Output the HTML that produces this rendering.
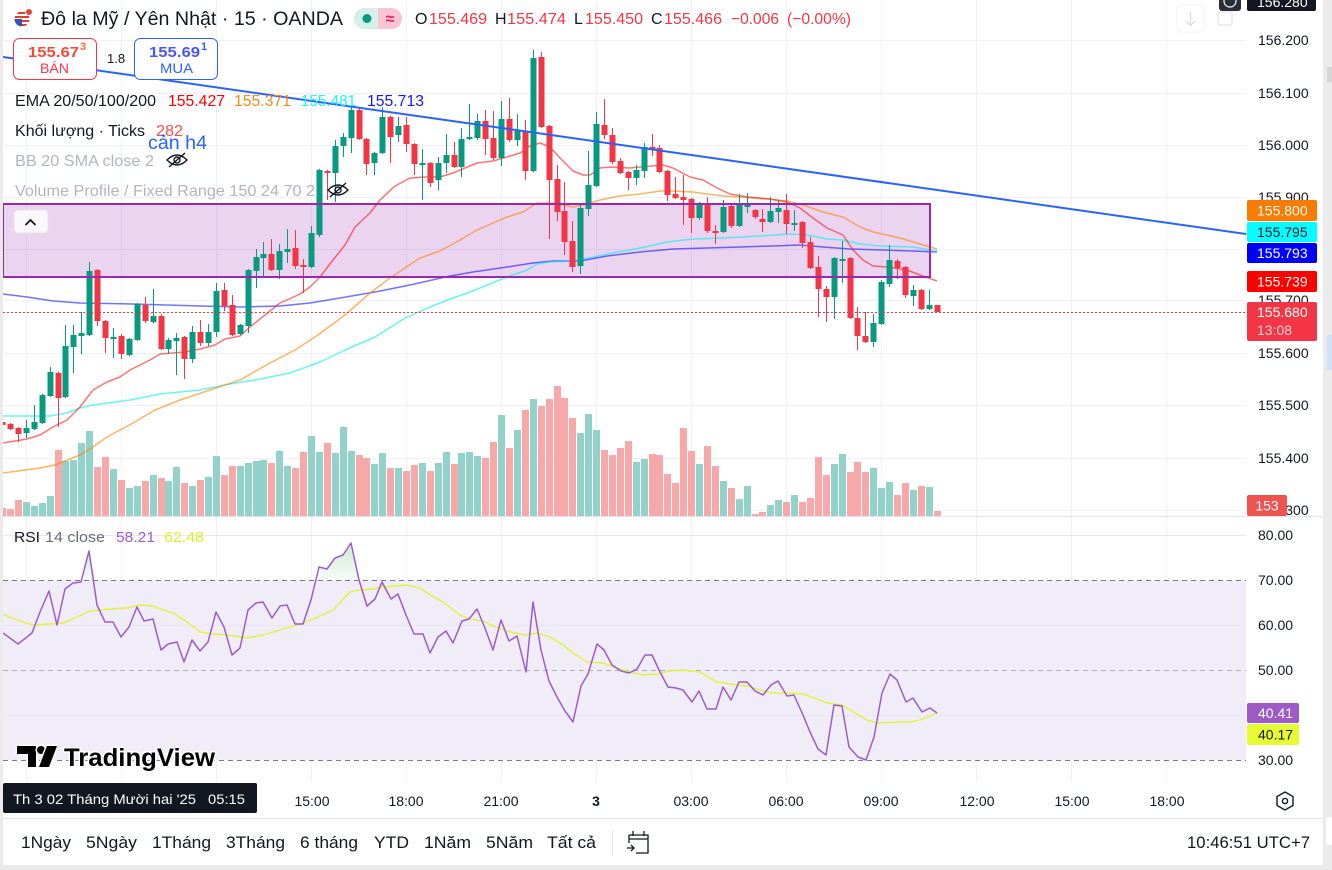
<!DOCTYPE html>
<html><head><meta charset="utf-8"><style>
html,body{margin:0;padding:0;background:#fff;}
svg{display:block;font-family:"Liberation Sans","DejaVu Sans",sans-serif;}
</style></head><body>
<svg width="1332" height="870" viewBox="0 0 1332 870" xmlns="http://www.w3.org/2000/svg">
<defs>
<linearGradient id="gf" x1="0" y1="0" x2="0" y2="1"><stop offset="0" stop-color="#4caf50" stop-opacity="0.28"/><stop offset="1" stop-color="#4caf50" stop-opacity="0.04"/></linearGradient>
<clipPath id="cp"><rect x="3" y="0" width="1243" height="516"/></clipPath>
<clipPath id="cr"><rect x="3" y="517" width="1243" height="265"/></clipPath>
</defs>
<rect width="1332" height="870" fill="#fff"/>
<!-- grid -->
<g stroke="#eff1f5" stroke-width="1">
<path d="M3 40.5H1246M3 93.5H1246M3 145.5H1246M3 197.5H1246M3 249.5H1246M3 300.5H1246M3 353.5H1246M3 405.5H1246M3 458.5H1246M3 510.5H1246"/>
<path d="M26.5 0V782M121.5 0V782M216.5 0V782M311.5 0V782M406.5 0V782M501.5 0V782M596.5 0V782M691.5 0V782M786.5 0V782M881.5 0V782M976.5 0V782M1071.5 0V782M1166.5 0V782"/>
</g>
<!-- RSI pane -->
<rect x="3" y="580" width="1243" height="180" fill="#f0ecf8"/>
<g stroke="#eae6f2"><path d="M3 535.5H1246M3 625.5H1246M3 715.5H1246"/></g>
<g fill="none" stroke="#787b86" stroke-width="1" stroke-dasharray="5,4">
<path d="M3 580.5H1246"/><path d="M3 670.5H1246" stroke-opacity="0.55"/><path d="M3 760.5H1246"/>
</g>
<g clip-path="url(#cr)">
<polygon points="82,580 89,551 95,580" fill="url(#gf)"/>
<polygon points="316,580 319,567 327,569 335,558 343,555 351,543 358,580" fill="url(#gf)"/>
<polyline fill="none" stroke="#e1f33c" stroke-width="1.4" points="3,614 17,620 33,625 50,624 63,623 77,617 90,611 110,609 127,608 140,605 153,606 163,610 173,613 187,622 200,632 213,634 227,635 247,638 263,635 277,631 290,627 303,623 320,616 333,610 350,592 360,590 373,589 383,587 407,585 420,588 430,595 443,602 460,615 470,619 483,621 493,626 507,631 525,635 537,633 550,637 563,645 573,653 587,662 603,663 617,668 630,672 643,675 657,674 670,671 683,670 700,672 717,682 730,684 747,686 760,690 773,693 790,693 803,694 817,699 827,703 842,705 857,714 867,720 877,723 897,722 910,722 920,720 937,713"/>
<polyline fill="none" stroke="#9c5cc9" stroke-width="1.5" stroke-linejoin="round" points="3,633 18,644 32,633 40,612 49,591 57,625 65,589 73,583 81,582 89,551 97,605 105,622 113,622 121,637 129,627 137,607 144,621 153,619 161,650 168,644 177,642 184,662 192,640 200,651 208,642 216,612 224,627 232,655 240,648 248,610 256,603 263,602 272,618 280,606 287,605 295,624 303,624 311,600 319,567 327,569 335,558 343,555 351,543 359,580 367,606 375,599 382,582 391,599 398,594 406,615 414,634 423,634 430,653 438,637 446,631 453,643 462,621 469,619 477,609 485,628 493,650 501,620 509,641 517,636 526,672 533,602 541,650 549,681 557,697 565,711 573,722 581,686 588,674 597,644 604,650 612,665 621,671 629,673 637,669 645,655 652,655 660,672 668,687 676,688 683,690 692,702 699,691 707,709 716,709 723,687 731,700 739,682 747,682 755,691 763,695 771,685 778,681 787,696 794,695 803,715 810,732 818,749 826,755 834,705 842,706 849,747 858,757 866,760 874,737 882,693 890,674 897,680 906,702 913,698 922,712 930,708 937,713"/>
</g>
<g clip-path="url(#cp)">
<!-- volume -->
<path fill="#92d2ca" d="M23 502h7V516h-7ZM31 506h7V516h-7ZM39 503h7V516h-7ZM47 496h7V516h-7ZM62 461h7V516h-7ZM70 460h7V516h-7ZM78 443h7V516h-7ZM86 431h7V516h-7ZM110 469h7V516h-7ZM126 488h7V516h-7ZM134 486h7V516h-7ZM150 475h7V516h-7ZM165 481h7V516h-7ZM173 467h7V516h-7ZM189 486h7V516h-7ZM205 477h7V516h-7ZM213 456h7V516h-7ZM237 466h7V516h-7ZM245 463h7V516h-7ZM253 461h7V516h-7ZM260 460h7V516h-7ZM276 451h7V516h-7ZM284 466h7V516h-7ZM308 436h7V516h-7ZM316 452h7V516h-7ZM332 453h7V516h-7ZM340 427h7V516h-7ZM348 451h7V516h-7ZM371 464h7V516h-7ZM379 453h7V516h-7ZM395 468h7V516h-7ZM419 463h7V516h-7ZM435 463h7V516h-7ZM443 452h7V516h-7ZM458 453h7V516h-7ZM466 452h7V516h-7ZM474 456h7V516h-7ZM498 415h7V516h-7ZM514 430h7V516h-7ZM530 399h7V516h-7ZM577 433h7V516h-7ZM585 414h7V516h-7ZM593 430h7V516h-7ZM633 462h7V516h-7ZM641 459h7V516h-7ZM696 464h7V516h-7ZM720 481h7V516h-7ZM736 499h7V516h-7ZM744 486h7V516h-7ZM767 505h7V516h-7ZM775 500h7V516h-7ZM791 495h7V516h-7ZM831 464h7V516h-7ZM839 454h7V516h-7ZM870 468h7V516h-7ZM878 488h7V516h-7ZM886 482h7V516h-7ZM910 490h7V516h-7ZM926 487h7V516h-7Z"/>
<path fill="#f6a9a8" d="M-1 508h7V516h-7ZM7 509h7V516h-7ZM15 500h7V516h-7ZM55 450h7V516h-7ZM94 467h7V516h-7ZM102 457h7V516h-7ZM118 480h7V516h-7ZM142 481h7V516h-7ZM158 478h7V516h-7ZM181 483h7V516h-7ZM197 480h7V516h-7ZM221 475h7V516h-7ZM229 466h7V516h-7ZM268 463h7V516h-7ZM292 468h7V516h-7ZM300 452h7V516h-7ZM324 443h7V516h-7ZM356 455h7V516h-7ZM363 458h7V516h-7ZM387 468h7V516h-7ZM403 471h7V516h-7ZM411 465h7V516h-7ZM427 471h7V516h-7ZM451 464h7V516h-7ZM482 458h7V516h-7ZM490 442h7V516h-7ZM506 448h7V516h-7ZM522 410h7V516h-7ZM538 406h7V516h-7ZM546 399h7V516h-7ZM554 386h7V516h-7ZM561 398h7V516h-7ZM569 418h7V516h-7ZM601 450h7V516h-7ZM609 455h7V516h-7ZM617 448h7V516h-7ZM625 441h7V516h-7ZM649 454h7V516h-7ZM656 455h7V516h-7ZM664 474h7V516h-7ZM672 483h7V516h-7ZM680 428h7V516h-7ZM688 451h7V516h-7ZM704 446h7V516h-7ZM712 466h7V516h-7ZM728 488h7V516h-7ZM752 514h7V516h-7ZM759 512h7V516h-7ZM783 502h7V516h-7ZM799 502h7V516h-7ZM807 498h7V516h-7ZM815 457h7V516h-7ZM823 475h7V516h-7ZM847 472h7V516h-7ZM854 462h7V516h-7ZM862 472h7V516h-7ZM894 495h7V516h-7ZM902 483h7V516h-7ZM918 486h7V516h-7ZM934 511h7V516h-7Z"/>
<!-- zone fill -->
<rect x="3" y="204" width="927" height="73" fill="#9c27b0" fill-opacity="0.2"/>
<!-- EMAs -->
<g fill="none" stroke-width="1.5" stroke-linejoin="round">
<polyline stroke="#0000ff" stroke-opacity="0.55" points="3,294 27,297 53,301 80,303 133,304 200,306 240,307 280,306 310,303 340,298 375,292 410,285 450,276 473,272 507,267 533,263 553,261 580,261 607,256 640,252 673,249 707,248 740,247 773,246 800,245 823,247 850,249 883,250 913,251 937,252"/>
<polyline stroke="#00f0f0" stroke-opacity="0.6" points="3,416 50,416 67,413 80,408 93,405 130,400 160,394 200,390 230,384 255,380 290,373 320,362 345,350 375,337 405,318 430,307 450,299 470,292 507,277 527,270 537,264 550,262 573,261 593,257 613,253 640,248 667,242 693,239 723,238 760,236 790,234 807,235 827,239 843,240 860,244 880,246 913,247 937,251"/>
<polyline stroke="#ff8000" stroke-opacity="0.6" points="3,473 40,468 55,465 80,455 93,447 107,437 133,423 155,410 180,400 210,390 240,380 270,363 295,350 315,337 345,315 370,293 390,278 405,268 420,258 440,251 460,240 477,230 493,223 507,217 523,212 537,203 553,203 573,207 587,204 600,200 620,196 640,194 660,191 673,191 693,192 707,194 723,196 740,197 767,199 787,201 803,205 823,212 843,217 860,227 873,232 900,238 920,244 937,249"/>
<polyline stroke="#ff0000" stroke-opacity="0.55" points="3,443 27,439 40,435 53,427 67,420 80,407 93,390 107,382 120,377 130,370 150,360 160,354 185,352 200,349 215,345 225,339 240,336 250,327 265,315 280,303 300,294 310,287 320,277 333,260 345,245 355,227 370,213 380,200 395,186 410,178 425,177 440,177 453,173 477,163 493,161 507,157 520,153 530,146 540,143 550,147 560,158 573,171 583,175 590,175 600,168 610,167 630,168 640,167 663,165 673,168 690,177 703,180 717,188 730,194 747,197 770,199 787,202 800,208 813,218 827,228 843,235 853,250 863,260 873,266 887,267 907,270 920,275 937,281"/>
</g>
<!-- candles -->
<g transform="translate(0.5 0)" stroke-width="1" fill="none">
<path stroke="#089981" d="M26 420V438M34 405V430M42 394V424M50 367V397M65 325V398M73 325V373M81 312V354M89 262V336M113 328V358M129 338V356M137 303V341M153 289V323M168 338V354M176 333V375M192 326V363M208 324V346M216 283V337M240 324V335M248 269V333M256 249V288M263 242V278M279 244V279M287 229V263M311 226V268M319 169V237M335 140V202M343 133V157M351 107V153M374 152V175M382 107V154M398 117V142M422 149V200M438 157V190M446 134V173M461 128V177M469 104V140M477 114V140M501 101V166M517 114V146M533 50V172M580 204V274M588 151V216M596 112V187M636 165V185M644 143V178M699 202V220M723 200V233M739 194V227M747 193V213M770 197V223M778 201V223M794 210V231M834 257V319M842 241V283M873 314V347M881 280V325M889 245V287M913 285V306M929 290V310"/>
<path stroke="#f23645" d="M2 421V426M10 423V430M18 427V442M58 372V427M97 269V326M105 320V353M121 334V359M145 297V323M161 314V350M184 336V379M200 320V346M224 283V311M232 295V336M271 239V271M295 230V269M303 259V293M327 170V200M359 107V140M366 138V175M390 116V163M406 117V152M414 143V175M430 162V187M454 142V168M485 110V155M493 111V160M509 98V142M525 120V180M541 52V128M549 125V239M557 165V221M564 182V255M572 221V272M604 99V139M612 128V164M620 158V174M628 171V190M652 134V156M659 145V173M667 170V201M675 177V199M683 175V225M691 198V233M707 197V233M715 225V244M731 203V228M755 209V219M762 209V232M786 194V234M802 221V248M810 237V269M818 256V317M826 286V322M850 257V319M857 307V350M865 312V343M897 259V279M905 266V298M921 289V310M937 305V312"/>
</g>
<path fill="#089981" d="M23.5 428h6V433h-6ZM31.5 422h6V429h-6ZM39.5 395h6V423h-6ZM47.5 372h6V396h-6ZM62.5 346h6V397h-6ZM70.5 335h6V347h-6ZM78.5 333h6V336h-6ZM86.5 271h6V335h-6ZM110.5 337h6V339h-6ZM126.5 339h6V355h-6ZM134.5 304h6V340h-6ZM150.5 316h6V322h-6ZM165.5 340h6V349h-6ZM173.5 338h6V341h-6ZM189.5 332h6V359h-6ZM205.5 332h6V343h-6ZM213.5 291h6V332h-6ZM237.5 325h6V334h-6ZM245.5 270h6V326h-6ZM253.5 257h6V271h-6ZM260.5 254h6V258h-6ZM276.5 251h6V270h-6ZM284.5 249h6V252h-6ZM308.5 233h6V267h-6ZM316.5 170h6V235h-6ZM332.5 146h6V173h-6ZM340.5 137h6V146h-6ZM348.5 110h6V138h-6ZM371.5 153h6V163h-6ZM379.5 117h6V153h-6ZM395.5 126h6V135h-6ZM419.5 163h6V165h-6ZM435.5 163h6V180h-6ZM443.5 155h6V163h-6ZM458.5 139h6V167h-6ZM466.5 137h6V139h-6ZM474.5 121h6V138h-6ZM498.5 119h6V158h-6ZM514.5 131h6V140h-6ZM530.5 58h6V171h-6ZM577.5 208h6V266h-6ZM585.5 185h6V209h-6ZM593.5 124h6V186h-6ZM633.5 170h6V178h-6ZM641.5 147h6V171h-6ZM696.5 203h6V218h-6ZM720.5 207h6V232h-6ZM736.5 205h6V226h-6ZM744.5 205h6V207h-6ZM767.5 211h6V222h-6ZM775.5 208h6V212h-6ZM791.5 223h6V225h-6ZM831.5 258h6V297h-6ZM839.5 259h6V261h-6ZM870.5 323h6V342h-6ZM878.5 282h6V324h-6ZM886.5 260h6V284h-6ZM910.5 290h6V296h-6ZM926.5 305h6V309h-6Z"/>
<path fill="#f23645" d="M-0.5 422h6V425h-6ZM7.5 424h6V429h-6ZM15.5 428h6V434h-6ZM55.5 373h6V398h-6ZM94.5 270h6V321h-6ZM102.5 321h6V338h-6ZM118.5 336h6V354h-6ZM142.5 305h6V321h-6ZM158.5 316h6V349h-6ZM181.5 337h6V359h-6ZM197.5 332h6V343h-6ZM221.5 290h6V306h-6ZM229.5 305h6V335h-6ZM268.5 254h6V270h-6ZM292.5 248h6V266h-6ZM300.5 265h6V267h-6ZM324.5 171h6V173h-6ZM356.5 110h6V139h-6ZM363.5 139h6V164h-6ZM387.5 117h6V137h-6ZM403.5 125h6V144h-6ZM411.5 144h6V164h-6ZM427.5 163h6V183h-6ZM451.5 155h6V167h-6ZM482.5 121h6V139h-6ZM490.5 138h6V158h-6ZM506.5 119h6V140h-6ZM522.5 132h6V171h-6ZM538.5 57h6V127h-6ZM546.5 126h6V180h-6ZM554.5 179h6V212h-6ZM561.5 211h6V242h-6ZM569.5 241h6V267h-6ZM601.5 125h6V135h-6ZM609.5 135h6V162h-6ZM617.5 161h6V173h-6ZM625.5 172h6V178h-6ZM649.5 147h6V149h-6ZM656.5 148h6V172h-6ZM664.5 171h6V195h-6ZM672.5 194h6V198h-6ZM680.5 197h6V200h-6ZM688.5 199h6V218h-6ZM704.5 203h6V231h-6ZM712.5 231h6V233h-6ZM728.5 206h6V226h-6ZM752.5 210h6V217h-6ZM759.5 219h6V222h-6ZM783.5 210h6V224h-6ZM799.5 222h6V243h-6ZM807.5 242h6V268h-6ZM815.5 267h6V289h-6ZM823.5 289h6V297h-6ZM847.5 258h6V318h-6ZM854.5 318h6V336h-6ZM862.5 336h6V342h-6ZM894.5 261h6V268h-6ZM902.5 267h6V295h-6ZM918.5 290h6V309h-6ZM934.5 305h6V312h-6Z"/>
<!-- zone border -->
<rect x="3" y="204" width="927" height="73" fill="none" stroke="#9c27b0" stroke-width="2"/>
<!-- trend line -->
<line x1="3" y1="57" x2="1246" y2="234" stroke="#2962ff" stroke-width="2"/>
<!-- price line -->
<line x1="3" y1="312.5" x2="1246" y2="312.5" stroke="#f23645" stroke-width="1" stroke-dasharray="2,2"/>
</g>
<!-- up button -->
<rect x="14" y="210" width="34" height="23" rx="4" fill="#fbf8fc" stroke="#eadfee"/>
<polyline points="25.5,225 30.5,220 35.5,225" fill="none" stroke="#131722" stroke-width="1.8"/>
<!-- separators -->
<line x1="0" y1="516.5" x2="1323" y2="516.5" stroke="#e0e3eb"/>
<line x1="0" y1="818.5" x2="1323" y2="818.5" stroke="#e0e3eb"/>
<!-- header -->
<g>
<circle cx="22" cy="19" r="7.5" fill="#fff"/>
<clipPath id="fl"><circle cx="22" cy="19" r="7.5"/></clipPath>
<g clip-path="url(#fl)">
<rect x="14" y="11" width="16" height="16" fill="#fff"/>
<path d="M14 12h16v2h-16ZM14 16h16v2h-16ZM14 20h16v2h-16ZM14 24h16v2h-16Z" fill="#e53935"/>
<rect x="14" y="19" width="8" height="8" fill="#3256b5"/>
</g>
<circle cx="29" cy="12" r="4" fill="#fff"/><circle cx="29" cy="12" r="3" fill="#e8453c"/>
</g>
<text x="41" y="25" font-size="19.5" fill="#131722" textLength="302" lengthAdjust="spacingAndGlyphs">Đô la Mỹ / Yên Nhật · 15 · OANDA</text>
<rect x="354" y="8" width="48" height="21" rx="10.5" fill="#f8c4d6"/>
<path d="M364.5 8H378V29H364.5A10.5 10.5 0 0 1 364.5 8Z" fill="#d6efe8"/>
<circle cx="367" cy="18.5" r="4.5" fill="#089981"/>
<text x="390" y="24" font-size="16" font-weight="bold" fill="#e91e63" text-anchor="middle">≈</text>
<g font-size="16">
<text x="415" y="24" fill="#131722">O</text><text x="429" y="24" fill="#f23645" textLength="58" lengthAdjust="spacingAndGlyphs">155.469</text>
<text x="495" y="24" fill="#131722">H</text><text x="507" y="24" fill="#f23645" textLength="59" lengthAdjust="spacingAndGlyphs">155.474</text>
<text x="574" y="24" fill="#131722">L</text><text x="585" y="24" fill="#f23645" textLength="58" lengthAdjust="spacingAndGlyphs">155.450</text>
<text x="651" y="24" fill="#131722">C</text><text x="664" y="24" fill="#f23645" textLength="58" lengthAdjust="spacingAndGlyphs">155.466</text>
<text x="731" y="24" fill="#f23645" textLength="48" lengthAdjust="spacingAndGlyphs">−0.006</text>
<text x="787" y="24" fill="#f23645" textLength="64" lengthAdjust="spacingAndGlyphs">(−0.00%)</text>
</g>
<!-- bid/ask -->
<rect x="13.5" y="38.5" width="83" height="41" rx="6" fill="#fff" stroke="#f23645"/>
<text x="28" y="57" font-size="15" font-weight="bold" fill="#f04a3c" textLength="51" lengthAdjust="spacingAndGlyphs">155.67</text>
<text x="80" y="50" font-size="11" font-weight="bold" fill="#f5703a">3</text>
<text x="40" y="73" font-size="14" fill="#f23645" textLength="29" lengthAdjust="spacingAndGlyphs">BÁN</text>
<text x="107" y="63" font-size="13" fill="#131722">1.8</text>
<rect x="134.5" y="38.5" width="83" height="41" rx="6" fill="#fff" stroke="#2962ff"/>
<text x="149" y="57" font-size="15" font-weight="bold" fill="#4a58f0" textLength="51" lengthAdjust="spacingAndGlyphs">155.69</text>
<text x="201" y="50" font-size="11" font-weight="bold" fill="#2962ff">1</text>
<text x="160" y="73" font-size="14" fill="#2962ff" textLength="33" lengthAdjust="spacingAndGlyphs">MUA</text>
<!-- legends -->
<g font-size="16">
<text x="15" y="106" fill="#131722" textLength="141" lengthAdjust="spacingAndGlyphs">EMA 20/50/100/200</text>
<text x="168" y="106" fill="#ff0000" textLength="57" lengthAdjust="spacingAndGlyphs">155.427</text>
<text x="234" y="106" fill="#f58a1f" textLength="57" lengthAdjust="spacingAndGlyphs">155.371</text>
<text x="301" y="106" fill="#22f2f8" textLength="55" lengthAdjust="spacingAndGlyphs">155.481</text>
<text x="367" y="106" fill="#1818f0" textLength="57" lengthAdjust="spacingAndGlyphs">155.713</text>
<text x="15" y="136" fill="#131722" textLength="130" lengthAdjust="spacingAndGlyphs">Khối lượng · Ticks</text>
<text x="156" y="136" fill="#f05050" textLength="27" lengthAdjust="spacingAndGlyphs">282</text>
<text x="15" y="166" fill="#b2b5be" textLength="139" lengthAdjust="spacingAndGlyphs">BB 20 SMA close 2</text>
<text x="15" y="196" fill="#b2b5be" textLength="300" lengthAdjust="spacingAndGlyphs">Volume Profile / Fixed Range 150 24 70 2</text>
</g>
<text x="148" y="149" font-size="19" fill="#2962ff" textLength="59" lengthAdjust="spacingAndGlyphs">cản h4</text>
<g fill="none" stroke="#131722" stroke-width="1.4">
<path d="M167 160Q177 150 187 160Q177 170 167 160Z"/><circle cx="177" cy="160" r="3"/><line x1="169" y1="167" x2="185" y2="153"/>
<path d="M328 190Q338 180 348 190Q338 200 328 190Z"/><circle cx="338" cy="190" r="3"/><line x1="330" y1="197" x2="346" y2="183"/>
</g>
<!-- RSI legend -->
<g font-size="15">
<text x="14" y="542" fill="#131722" textLength="26" lengthAdjust="spacingAndGlyphs">RSI</text>
<text x="45" y="542" fill="#6a6d78" textLength="60" lengthAdjust="spacingAndGlyphs">14 close</text>
<text x="116" y="542" fill="#a05cd0" textLength="39" lengthAdjust="spacingAndGlyphs">58.21</text>
<text x="164" y="542" fill="#dcef2c" textLength="40" lengthAdjust="spacingAndGlyphs">62.48</text>
</g>
<!-- TradingView logo -->
<g stroke="#fff" stroke-width="3" stroke-linejoin="round" paint-order="stroke">
<path d="M17 746H36V767H28V754H17Z" fill="#000"/>
<circle cx="41" cy="750" r="4" fill="#000"/>
<path d="M47 746H57L49 767H39Z" fill="#000"/>
<text x="64" y="766" font-size="25" font-weight="bold" fill="#000" textLength="151" lengthAdjust="spacingAndGlyphs">TradingView</text>
</g>
<!-- price axis -->
<g font-size="14" fill="#131722">
<text x="1258" y="45">156.200</text>
<text x="1258" y="98">156.100</text>
<text x="1258" y="150">156.000</text>
<text x="1258" y="202">155.900</text>
<text x="1258" y="305">155.700</text>
<text x="1258" y="358">155.600</text>
<text x="1258" y="410">155.500</text>
<text x="1258" y="463">155.400</text>
<text x="1258" y="515">155.300</text>
<text x="1258" y="540">80.00</text>
<text x="1258" y="585">70.00</text>
<text x="1258" y="630">60.00</text>
<text x="1258" y="675">50.00</text>
<text x="1258" y="765">30.00</text>
</g>
<g font-size="14">
<rect x="1247" y="200" width="70" height="21" rx="2" fill="#f77c00"/><text x="1257" y="215.5" fill="#fff">155.800</text>
<rect x="1247" y="222" width="70" height="20" rx="2" fill="#00ffff"/><text x="1257" y="237" fill="#131722">155.795</text>
<rect x="1247" y="243" width="70" height="20" rx="2" fill="#0000ff"/><text x="1257" y="258" fill="#fff">155.793</text>
<rect x="1247" y="271" width="70" height="21" rx="2" fill="#ff0000"/><text x="1257" y="286.5" fill="#fff">155.739</text>
<rect x="1247" y="302" width="70" height="39" rx="2" fill="#f23645"/><text x="1257" y="317" fill="#fff">155.680</text><text x="1257" y="335" fill="#ffd2d6">13:08</text>
<rect x="1247" y="495" width="40" height="21" rx="2" fill="#ef5350"/><text x="1267" y="510.5" fill="#fff" text-anchor="middle">153</text>
<rect x="1247" y="703" width="52" height="20" rx="2" fill="#9e5bc6"/><text x="1258" y="718" fill="#fff">40.41</text>
<rect x="1247" y="724" width="52" height="21" rx="2" fill="#e6fb34"/><text x="1258" y="739.5" fill="#131722">40.17</text>
</g>
<!-- top right cut elements -->
<rect x="1247" y="-10" width="69" height="21" rx="2" fill="#131722"/>
<text x="1257" y="7" font-size="14" fill="#fff">156.280</text>
<rect x="1219" y="-10" width="22" height="21" rx="3" fill="#2a2e39"/>
<circle cx="1230" cy="1" r="6" fill="none" stroke="#fff" stroke-width="1.2"/>
<rect x="1177" y="5" width="27" height="27" rx="4" fill="none" stroke="#f3f3f3"/>
<path d="M1190.5 12V25M1186 21L1190.5 25.5L1195 21" fill="none" stroke="#d6d8de" stroke-width="1.2"/>
<rect x="1218" y="12" width="14" height="13" rx="2" fill="none" stroke="#e3e4e8" stroke-width="1.2"/>
<!-- time axis -->
<rect x="3" y="783" width="254" height="30" rx="2" fill="#131722"/>
<text x="13" y="804" font-size="14" fill="#fff" textLength="183" lengthAdjust="spacingAndGlyphs">Th 3 02 Tháng Mười hai '25</text>
<text x="208" y="804" font-size="14" fill="#fff" textLength="37" lengthAdjust="spacingAndGlyphs">05:15</text>
<g font-size="14" fill="#131722" text-anchor="middle">
<text x="312" y="806">15:00</text>
<text x="406" y="806">18:00</text>
<text x="501" y="806">21:00</text>
<text x="596" y="806" font-weight="bold">3</text>
<text x="691" y="806">03:00</text>
<text x="786" y="806">06:00</text>
<text x="881" y="806">09:00</text>
<text x="977" y="806">12:00</text>
<text x="1072" y="806">15:00</text>
<text x="1167" y="806">18:00</text>
</g>
<polygon points="1285,792 1293,796.5 1293,805.5 1285,810 1277,805.5 1277,796.5" fill="none" stroke="#131722" stroke-width="1.4"/>
<circle cx="1285" cy="801" r="2.6" fill="none" stroke="#131722" stroke-width="1.4"/>
<!-- bottom toolbar -->
<g font-size="17" fill="#131722">
<text x="21" y="848" textLength="50" lengthAdjust="spacingAndGlyphs">1Ngày</text>
<text x="86" y="848" textLength="51" lengthAdjust="spacingAndGlyphs">5Ngày</text>
<text x="152" y="848" textLength="59" lengthAdjust="spacingAndGlyphs">1Tháng</text>
<text x="226" y="848" textLength="59" lengthAdjust="spacingAndGlyphs">3Tháng</text>
<text x="300" y="848" textLength="58" lengthAdjust="spacingAndGlyphs">6 tháng</text>
<text x="374" y="848" textLength="35" lengthAdjust="spacingAndGlyphs">YTD</text>
<text x="424" y="848" textLength="47" lengthAdjust="spacingAndGlyphs">1Năm</text>
<text x="486" y="848" textLength="47" lengthAdjust="spacingAndGlyphs">5Năm</text>
<text x="547" y="848" textLength="49" lengthAdjust="spacingAndGlyphs">Tất cả</text>
<text x="1187" y="848" textLength="123" lengthAdjust="spacingAndGlyphs">10:46:51 UTC+7</text>
</g>
<line x1="612.5" y1="830" x2="612.5" y2="855" stroke="#e0e3eb"/>
<g fill="none" stroke="#131722" stroke-width="1.3">
<path d="M629 835H648V853H636M629 835V843M629 839H648M633 831V836M644 831V836"/>
<path d="M627 848H634M631 845L634 848L631 851"/>
</g>
<!-- frame -->
<rect x="0" y="0" width="3" height="870" fill="#ebebeb"/>
<rect x="1323" y="0" width="9" height="870" fill="#ebebeb"/>
<rect x="1327" y="67" width="5" height="15" fill="#d6d6d6"/>
<rect x="1327" y="335" width="5" height="35" fill="#cfe0f7"/>
<rect x="1326" y="817" width="6" height="28" rx="2" fill="#fff"/>
<rect x="0" y="865" width="1332" height="5" fill="#ebebeb"/>
</svg>
</body></html>
